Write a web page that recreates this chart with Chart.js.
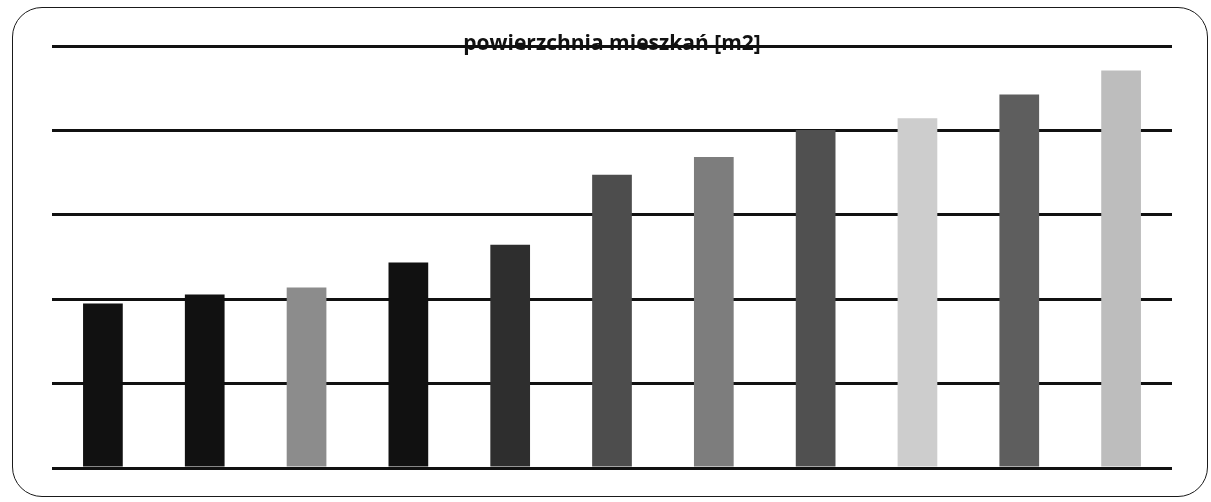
<!DOCTYPE html>
<html>
<head>
<meta charset="utf-8">
<script src="https://cdn.jsdelivr.net/npm/chart.js@4.4.1/dist/chart.umd.min.js"></script>
<style>
  html, body { margin: 0; padding: 0; background: #fff; }
  #wrap { position: relative; width: 1211px; height: 502px; }
  #frame {
    position: absolute; left: 12px; top: 7px; width: 1194px; height: 488px;
    border: 1.5px solid #1a1a1a; border-radius: 30px; pointer-events: none;
  }
</style>
</head>
<body>
<div id="wrap">
  <canvas id="chart" width="1211" height="502"></canvas>
  <div id="frame"></div>
</div>
<script>
// Chart data (no value labels visible, gridlines every 20)
const chartTitle = 'powierzchnia mieszkań [m2]';
const categories = ['1', '2', '3', '4', '5', '6', '7', '8', '9', '10', '11'];
const areaValues = [39.0, 41.1, 42.8, 48.7, 52.9, 69.5, 73.7, 80.1, 82.9, 88.5, 94.2];
const yTicks = [0, 20, 40, 60, 80, 100];

const barColors = [
  '#111111', '#111111', '#8c8c8c', '#111111', '#2e2e2e', '#4d4d4d',
  '#7d7d7d', '#505050', '#cdcdcd', '#5e5e5e', '#bdbdbd',
];

// title sits centered on top of the uppermost gridline
const titleOnGrid = {
  id: 'titleOnGrid',
  afterDraw(chart) {
    const { ctx, chartArea } = chart;
    ctx.save();
    ctx.font = 'bold 21px "Open Sans", sans-serif';
    ctx.fillStyle = '#111';
    ctx.textAlign = 'center';
    ctx.textBaseline = 'middle';
    ctx.fillText(chartTitle, (chartArea.left + chartArea.right) / 2, chartArea.top - 2);
    ctx.restore();
  },
};

new Chart(document.getElementById('chart'), {
  type: 'bar',
  data: {
    labels: categories,
    datasets: [{
      label: chartTitle,
      data: areaValues,
      backgroundColor: barColors,
      borderWidth: 0,
      barPercentage: 0.78,
      categoryPercentage: 0.5,
    }],
  },
  options: {
    responsive: false,
    animation: false,
    layout: { padding: { left: 52, right: 39, top: 46, bottom: 26 } },
    plugins: {
      legend: { display: false },
      title: { display: false },
      tooltip: { enabled: false },
    },
    scales: {
      x: {
        grid: { display: false },
        border: { display: false },
        ticks: { display: false },
      },
      y: {
        min: yTicks[0],
        max: yTicks[yTicks.length - 1],
        afterBuildTicks: (axis) => { axis.ticks = yTicks.map(v => ({ value: v })); },
        grid: { color: '#111', lineWidth: 3, drawTicks: false },
        border: { display: false },
        ticks: { display: false },
      },
    },
  },
  plugins: [titleOnGrid],
});
</script>
</body>
</html>
